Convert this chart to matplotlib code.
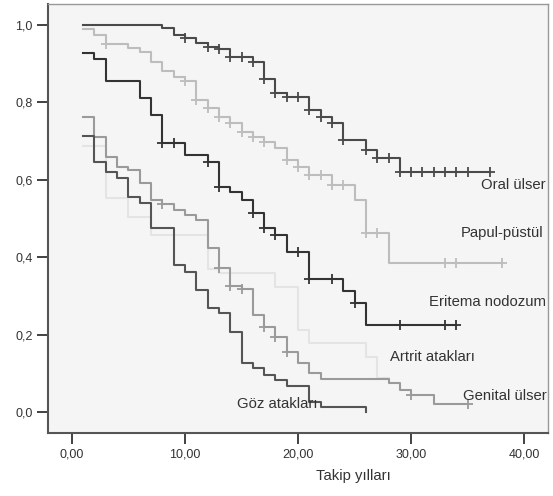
import numpy as np
import matplotlib
matplotlib.use('Agg')
from matplotlib import pyplot as plt

plt.rcParams['font.family'] = ['Liberation Sans', 'DejaVu Sans']

# Kaplan-Meier egrileri: olay zamanlari ve her adimdan sonraki sagkalim
oral_t = [1, 8, 9, 10, 11, 12, 13, 14, 16, 17, 18, 19, 21, 22, 23, 24, 26, 27, 29, 37]
oral_s = [1.0, 0.991, 0.974, 0.966, 0.952, 0.943, 0.938, 0.917, 0.905, 0.86, 0.825,
          0.815, 0.78, 0.763, 0.746, 0.703, 0.677, 0.656, 0.621, 0.621]
oral_c = [10, 12, 13, 14, 15, 16, 17, 18, 19, 20, 21, 22, 23, 24, 26, 27, 28,
          29, 30, 31, 32, 33, 34, 35, 37]

papul_t = [1, 2, 3, 5, 6, 7, 8, 9, 10, 11, 12, 13, 14, 15, 16, 17, 18, 19, 20,
           21, 23, 25, 26, 28, 38]
papul_s = [0.99, 0.974, 0.951, 0.94, 0.931, 0.905, 0.882, 0.866, 0.854, 0.806,
           0.785, 0.762, 0.746, 0.724, 0.711, 0.698, 0.683, 0.651, 0.632, 0.612,
           0.587, 0.548, 0.462, 0.386, 0.386]
papul_c = [3, 10, 11, 12, 13, 14, 15, 16, 17, 19, 20, 21, 22, 23, 24, 26, 27,
           33, 34, 38]

erit_t = [1, 2, 3, 6, 7, 8, 10, 12, 13, 14, 15, 16, 17, 18, 19, 21, 24, 25, 26, 34]
erit_s = [0.927, 0.911, 0.854, 0.81, 0.767, 0.694, 0.664, 0.647, 0.582, 0.569,
          0.548, 0.513, 0.475, 0.457, 0.414, 0.345, 0.314, 0.283, 0.226, 0.226]
erit_c = [8, 9, 12, 13, 16, 17, 18, 20, 21, 23, 25, 29, 33, 34]

artrit_t = [1, 3, 5, 7, 12, 13, 18, 20, 21, 26, 27, 28]
artrit_s = [0.686, 0.553, 0.505, 0.457, 0.37, 0.358, 0.324, 0.212, 0.178, 0.143,
            0.087, 0.087]
artrit_c = []

genital_t = [1, 2, 3, 4, 5, 6, 7, 8, 9, 10, 11, 12, 13, 14, 15, 16, 17, 18, 19,
             20, 21, 22, 28, 29, 30, 32, 35]
genital_s = [0.763, 0.711, 0.66, 0.634, 0.625, 0.591, 0.548, 0.537, 0.522, 0.51,
             0.496, 0.423, 0.371, 0.326, 0.318, 0.252, 0.22, 0.195, 0.156, 0.128,
             0.102, 0.086, 0.074, 0.057, 0.044, 0.022, 0.022]
genital_c = [8, 13, 14, 15, 17, 18, 19, 30, 35]

goz_t = [1, 2, 3, 4, 5, 6, 7, 9, 10, 11, 12, 13, 14, 15, 16, 17, 18, 19, 21, 22, 26]
goz_s = [0.713, 0.647, 0.621, 0.604, 0.556, 0.539, 0.475, 0.38, 0.363, 0.315,
         0.27, 0.255, 0.208, 0.128, 0.113, 0.096, 0.083, 0.067, 0.027, 0.014, 0.0]
goz_c = []

curves = [
    (oral_t, oral_s, oral_c, '#4a4a4a'),
    (papul_t, papul_s, papul_c, '#bdbdbd'),
    (erit_t, erit_s, erit_c, '#333333'),
    (artrit_t, artrit_s, artrit_c, '#e4e4e4'),
    (genital_t, genital_s, genital_c, '#9a9a9a'),
    (goz_t, goz_s, goz_c, '#555555'),
]

labels = ['Oral ülser', 'Papul-püstül', 'Eritema nodozum', 'Artrit atakları',
          'Genital ülser', 'Göz atakları']

fig = plt.figure(figsize=(5.53, 4.96), dpi=100)
ax = fig.add_axes([0.087, 0.127, 0.904, 0.865])
ax.set_facecolor('#f5f5f5')

for t, s, c, col in curves:
    ax.step(t, s, where='post', color=col, lw=1.5)
    if c:
        cy = [s[np.searchsorted(t, ci, side='right') - 1] for ci in c]
        ax.plot(c, cy, '+', color=col, ms=7, mew=1.3)

fs = 10.7
ax.text(41.9, 0.587, labels[0], ha='right', va='center', fontsize=fs, color='#333333')
ax.text(41.7, 0.463, labels[1], ha='right', va='center', fontsize=fs, color='#333333')
ax.text(41.9, 0.284, labels[2], ha='right', va='center', fontsize=fs, color='#333333')
ax.text(28.1, 0.142, labels[3], ha='left', va='center', fontsize=fs, color='#333333')
ax.text(34.6, 0.041, labels[4], ha='left', va='center', fontsize=fs, color='#333333')
ax.text(14.6, 0.021, labels[5], ha='left', va='center', fontsize=fs, color='#333333')

ax.set_xlim(-2.1, 42.1)
ax.set_ylim(-0.054, 1.054)
ax.set_xticks([0, 10, 20, 30, 40])
ax.set_xticklabels(['0,00', '10,00', '20,00', '30,00', '40,00'])
ax.set_yticks([0, 0.2, 0.4, 0.6, 0.8, 1.0])
ax.set_yticklabels(['0,0', '0,2', '0,4', '0,6', '0,8', '1,0'])
ax.tick_params(labelsize=9, colors='#333333', length=8, width=1.3, pad=3)
ax.set_xlabel('Takip yılları', fontsize=fs, color='#333333')
ax.xaxis.set_label_coords(0.61, -0.085)

for side in ['left', 'bottom']:
    ax.spines[side].set_color('#555555')
    ax.spines[side].set_linewidth(1.5)
for side in ['top', 'right']:
    ax.spines[side].set_color('#999999')
    ax.spines[side].set_linewidth(1.0)

fig.savefig('out.png', dpi=100)
